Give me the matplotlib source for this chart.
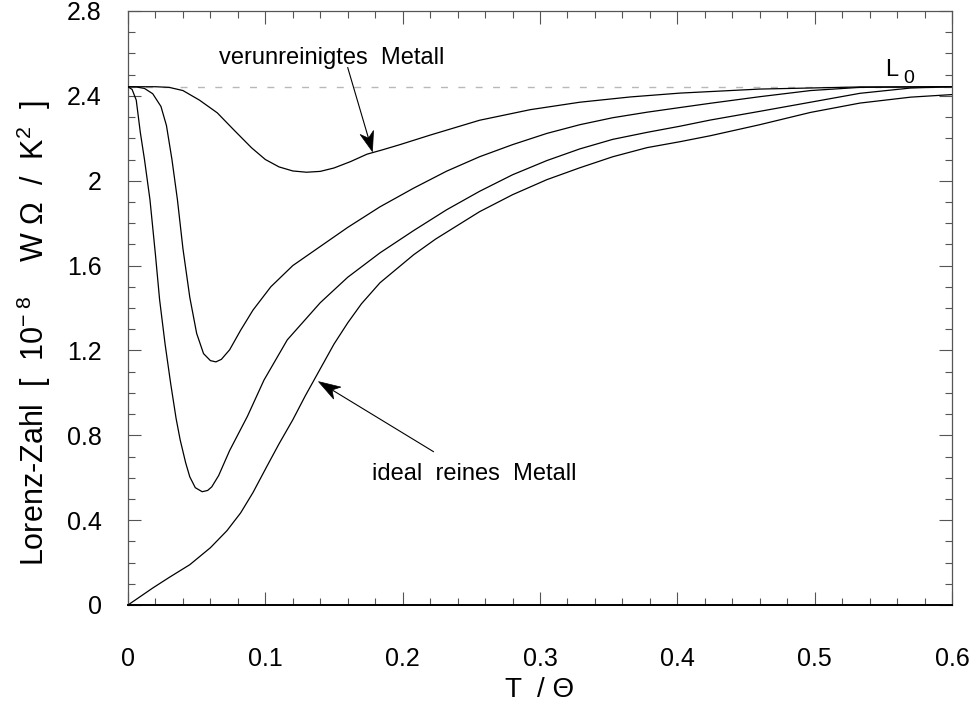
import numpy as np
import matplotlib
matplotlib.use("Agg")
import matplotlib.pyplot as plt
from matplotlib.patches import Polygon
from matplotlib.ticker import MultipleLocator

plt.rcParams['font.family'] = ['Liberation Sans', 'DejaVu Sans']
plt.rcParams['mathtext.fontset'] = 'custom'
plt.rcParams['mathtext.rm'] = 'Liberation Sans'
plt.rcParams['mathtext.it'] = 'Liberation Sans'

# Lorenz number L0 (units of 1e-8 W Ohm / K^2)
L0 = 2.443

# impure metal
t_impure = [0, 0.01, 0.02, 0.03, 0.04, 0.052, 0.065, 0.077, 0.09, 0.1, 0.11,
            0.12, 0.13, 0.14, 0.15, 0.162, 0.174, 0.185, 0.198, 0.22, 0.256,
            0.293, 0.329, 0.366, 0.402, 0.46, 0.533, 0.6]
l_impure = [2.443, 2.443, 2.443, 2.44, 2.425, 2.38, 2.32, 2.24, 2.155, 2.1, 2.065,
            2.046, 2.04, 2.044, 2.06, 2.09, 2.125, 2.145, 2.17, 2.215, 2.285,
            2.335, 2.37, 2.395, 2.413, 2.432, 2.442, 2.443]

# intermediate purity
t_mid1 = [0, 0.006, 0.012, 0.018, 0.024, 0.028, 0.032, 0.036, 0.040, 0.045, 0.050,
          0.055, 0.060, 0.064, 0.068, 0.074, 0.082, 0.091, 0.104, 0.12, 0.14, 0.16,
          0.1835, 0.208, 0.232, 0.256, 0.28, 0.305, 0.329, 0.353, 0.378, 0.402,
          0.424, 0.46, 0.497, 0.533, 0.6]
l_mid1 = [2.443, 2.442, 2.435, 2.41, 2.35, 2.26, 2.1, 1.91, 1.68, 1.45, 1.28,
          1.185, 1.152, 1.146, 1.158, 1.203, 1.295, 1.39, 1.5, 1.6, 1.69, 1.78,
          1.877, 1.965, 2.045, 2.113, 2.17, 2.223, 2.264, 2.297, 2.323, 2.345,
          2.365, 2.396, 2.425, 2.44, 2.443]

t_mid2 = [0, 0.003, 0.006, 0.009, 0.012, 0.016, 0.020, 0.023, 0.027, 0.031, 0.035,
          0.038, 0.042, 0.045, 0.049, 0.054, 0.058, 0.061, 0.066, 0.074, 0.087,
          0.099, 0.116, 0.14, 0.16, 0.1835, 0.208, 0.232, 0.256, 0.28, 0.305,
          0.329, 0.353, 0.378, 0.402, 0.424, 0.46, 0.497, 0.533, 0.57, 0.6]
l_mid2 = [2.443, 2.43, 2.38, 2.226, 2.1, 1.91, 1.65, 1.44, 1.23, 1.047, 0.88,
          0.778, 0.67, 0.604, 0.553, 0.534, 0.54, 0.557, 0.61, 0.728, 0.89,
          1.06, 1.25, 1.425, 1.545, 1.66, 1.765, 1.863, 1.95, 2.028, 2.095,
          2.15, 2.195, 2.228, 2.257, 2.286, 2.327, 2.37, 2.412, 2.437, 2.443]

# ideally pure metal
t_pure = [0, 0.018, 0.030, 0.045, 0.060, 0.072, 0.082, 0.091, 0.101, 0.11, 0.12,
          0.129, 0.138, 0.15, 0.16, 0.17, 0.1835, 0.208, 0.224, 0.256, 0.28, 0.305,
          0.329, 0.353, 0.378, 0.402, 0.424, 0.46, 0.497, 0.533, 0.57, 0.6]
l_pure = [0, 0.08, 0.13, 0.19, 0.27, 0.35, 0.434, 0.53, 0.652, 0.76, 0.873,
          0.985, 1.09, 1.23, 1.33, 1.42, 1.519, 1.651, 1.725, 1.854, 1.934, 2.005,
          2.061, 2.113, 2.156, 2.184, 2.212, 2.264, 2.322, 2.366, 2.394, 2.406]

x_ticks = [0, 0.1, 0.2, 0.3, 0.4, 0.5, 0.6]
x_ticklabels = ['0', '0.1', '0.2', '0.3', '0.4', '0.5', '0.6']
y_ticks = [0, 0.4, 0.8, 1.2, 1.6, 2.0, 2.4, 2.8]
y_ticklabels = ['0', '0.4', '0.8', '1.2', '1.6', '2', '2.4', '2.8']

fig = plt.figure(figsize=(9.78, 7.10), dpi=100)
ax = fig.add_axes([128 / 978, 105 / 710, 824 / 978, 594 / 710])

ax.axhline(L0, color='#b8b8b8', lw=1.0, ls=(0, (5, 7.5)), zorder=1)

for t, l in [(t_impure, l_impure), (t_mid1, l_mid1), (t_mid2, l_mid2), (t_pure, l_pure)]:
    ax.plot(t, l, color='black', lw=0.9, zorder=3)

ax.set_xlim(0, 0.6)
ax.set_ylim(0, 2.8)
ax.set_xticks(x_ticks)
ax.set_xticklabels(x_ticklabels)
ax.set_yticks(y_ticks)
ax.set_yticklabels(y_ticklabels)
ax.xaxis.set_minor_locator(MultipleLocator(0.02))
ax.yaxis.set_minor_locator(MultipleLocator(0.1))
ax.tick_params(which='both', direction='in', top=True, right=True,
               color='#555555', width=0.8)
ax.tick_params(which='major', length=9.5)
ax.tick_params(which='minor', length=5)
ax.tick_params(axis='x', which='major', labelsize=18, pad=30)
ax.tick_params(axis='y', which='major', labelsize=18, pad=19)
for side in ['top', 'right', 'left']:
    ax.spines[side].set_color('#555555')
    ax.spines[side].set_linewidth(0.9)
ax.spines['bottom'].set_linewidth(1.4)

fig.text(540 / 978, 1 - 690 / 710, 'T  / Θ', ha='center', va='center', fontsize=20)
fig.text(34 / 978, 1 - 333 / 710,
         'Lorenz-Zahl  [  10$^{-\\ 8}$    W Ω  /  K$^{2}$  ]',
         rotation=90, ha='center', va='center', fontsize=22)

# L0 label
ax.text(0.5513, 2.495, 'L', fontsize=17, ha='left', va='baseline')
ax.text(0.5645, 2.462, '0', fontsize=14, ha='left', va='baseline')


def stealth_arrow(tail, tip, length=20, half_width=7, notch=6):
    """Thin shaft with a filled, notched arrowhead drawn in pixel space."""
    p0 = ax.transData.transform(tail)
    p1 = ax.transData.transform(tip)
    d = (p1 - p0) / np.hypot(*(p1 - p0))
    n = np.array([-d[1], d[0]])
    base = p1 - d * length
    head = [p1, base + n * half_width, p1 - d * (length - notch), base - n * half_width]
    shaft_end = p1 - d * (length - notch)
    fig.add_artist(plt.Line2D([p0[0], shaft_end[0]], [p0[1], shaft_end[1]],
                              transform=None, color='black', lw=0.8))
    fig.add_artist(Polygon(head, closed=True, transform=None,
                           facecolor='black', edgecolor='black', lw=0.5))


stealth_arrow((0.160, 2.533), (0.178, 2.137))
ax.text(0.2302, 2.552, 'verunreinigtes  Metall', fontsize=17, ha='right', va='baseline')

stealth_arrow((0.2224, 0.723), (0.1387, 1.053), length=22)
ax.text(0.1777, 0.59, 'ideal  reines  Metall', fontsize=17, ha='left', va='baseline')

fig.savefig('out.png', dpi=100)
